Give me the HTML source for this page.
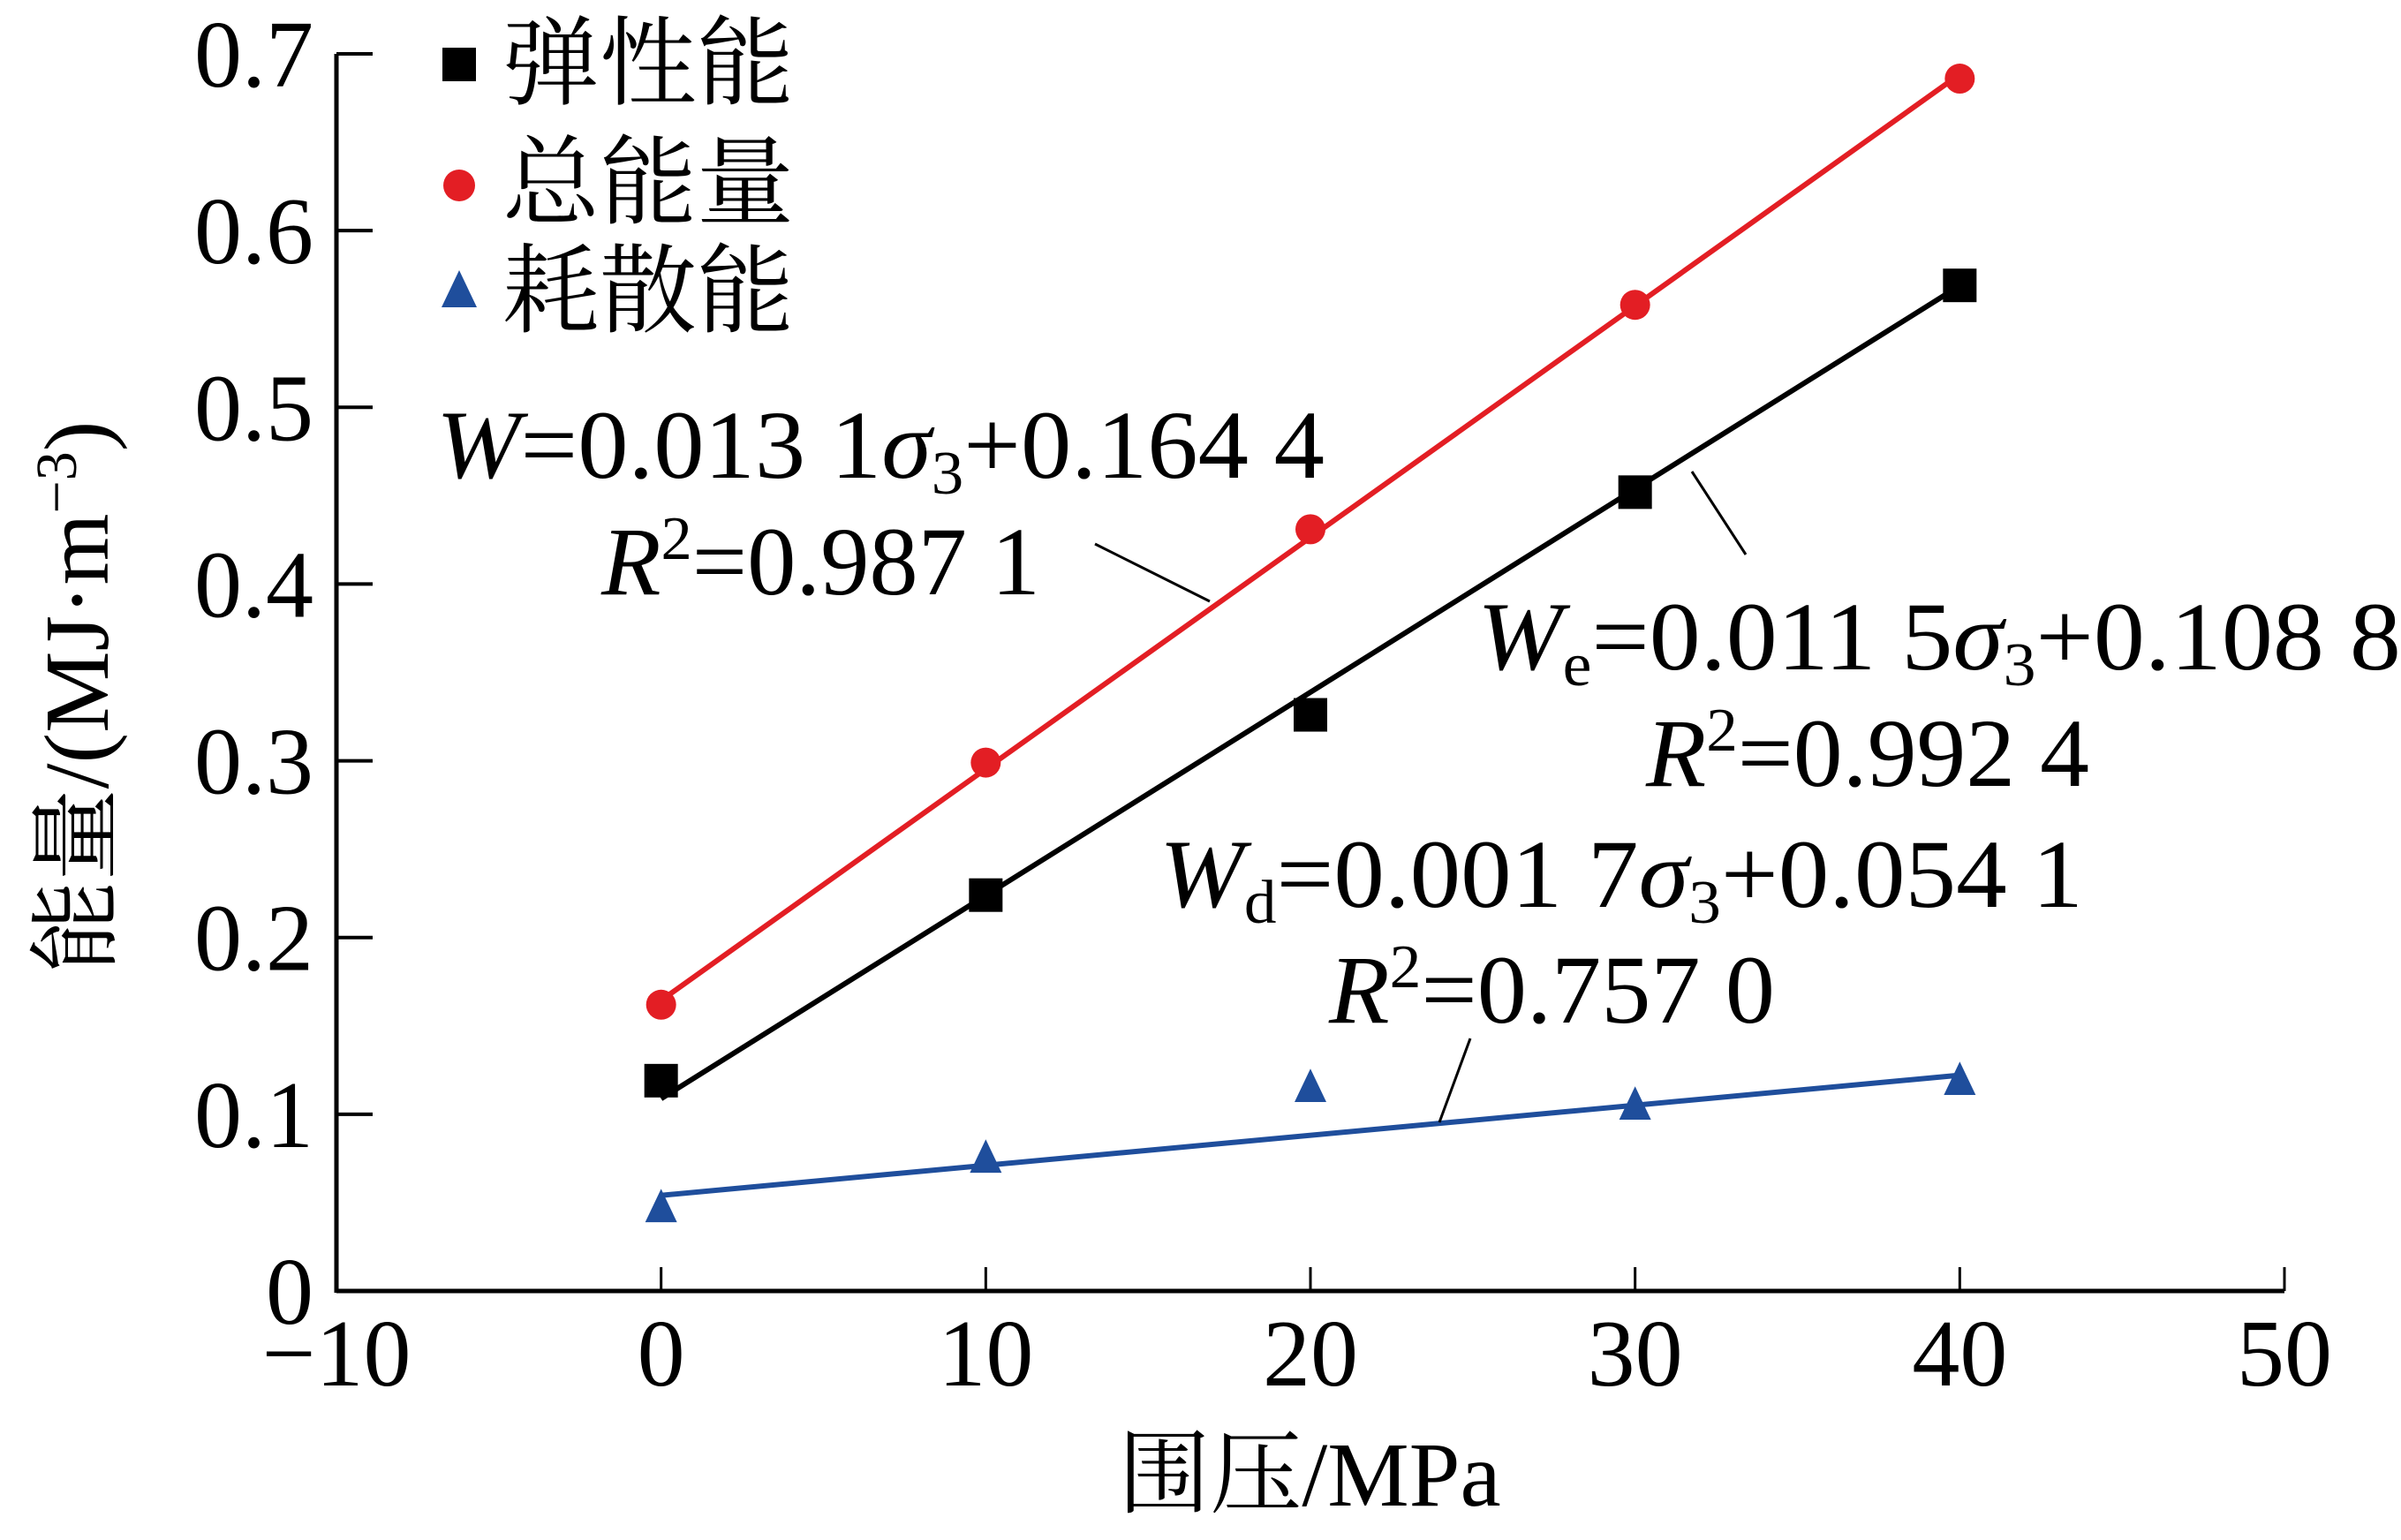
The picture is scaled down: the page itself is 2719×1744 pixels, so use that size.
<!DOCTYPE html>
<html><head><meta charset="utf-8">
<style>
html,body{margin:0;padding:0;background:#fff;}
svg{display:block;}
text{font-family:"Liberation Serif","Noto Serif CJK SC",serif;fill:#000;}
.cjk{font-family:"Liberation Serif","Noto Serif CJK SC","Noto Sans CJK SC",serif;}
</style></head>
<body>
<svg id="chart" width="2719" height="1744" viewBox="0 0 2719 1744" xmlns="http://www.w3.org/2000/svg">
  <g id="axes"></g>
  <g id="series"></g>
  <g id="legend"></g>
  <g id="annot"></g>
</svg>
<script>
const xCats = [0, 10, 20, 30, 40];
const elastic = [0.119, 0.224, 0.326, 0.452, 0.569];
const total = [0.162, 0.299, 0.431, 0.558, 0.686];
const dissipated = [0.047, 0.075, 0.115, 0.105, 0.119];
const fitTotal = [0.0131, 0.1644];
const fitElastic = [0.0115, 0.1088];
const fitDiss = [0.0017, 0.0541];
const xTicks = [-10, 0, 10, 20, 30, 40, 50];
const xTickLabels = ["\u221210", "0", "10", "20", "30", "40", "50"];
const yTicks = [0, 0.1, 0.2, 0.3, 0.4, 0.5, 0.6, 0.7];
const yTickLabels = ["0", "0.1", "0.2", "0.3", "0.4", "0.5", "0.6", "0.7"];

const NS = "http://www.w3.org/2000/svg";
const X0 = 381, X1 = 2587, Y0 = 1462, Y1 = 61;
function xs(v){ return X0 + (v - (-10)) / 60 * (X1 - X0); }
function ys(v){ return Y0 - v / 0.7 * (Y0 - Y1); }
function mk(tag, attrs, parent){
  const e = document.createElementNS(NS, tag);
  for (const k in attrs) e.setAttribute(k, attrs[k]);
  parent.appendChild(e);
  return e;
}
const axes = document.getElementById('axes');
const series = document.getElementById('series');

// axis lines
let ax = mk('line', {x1:X0, y1:Y0, x2:X1, y2:Y0, stroke:'#000', 'stroke-width':5}, axes);


let ay = mk('line', {x1:X0, y1:Y0+2, x2:X0, y2:Y1, stroke:'#000', 'stroke-width':5}, axes);



xTicks.forEach((t, i) => {
  const x = xs(t);
  const tk = mk('line', {x1:x, y1:Y0, x2:x, y2:Y0-27, stroke:'#000', 'stroke-width':3}, axes);
  
  
  const lb = mk('text', {x:x, y:1569, 'font-size':108, 'text-anchor':'middle'}, axes);
  lb.textContent = xTickLabels[i];
  
  
});
yTicks.forEach((t, i) => {
  const y = ys(t);
  const tk = mk('line', {x1:X0, y1:y, x2:X0+41, y2:y, stroke:'#000', 'stroke-width':4}, axes);
  
  
  const lb = mk('text', {x:355, y:y+37, 'font-size':108, 'text-anchor':'end'}, axes);
  lb.textContent = yTickLabels[i];
  
  
});

// axis titles
const xt = mk('text', {x:1483, y:1705, 'font-size':104, 'text-anchor':'middle', class:'cjk'}, axes);
xt.textContent = '围压/MPa';


const yt = mk('text', {x:0, y:0, 'font-size':104, 'text-anchor':'middle', class:'cjk', transform:'translate(122,789) rotate(-90)'}, axes);
yt.innerHTML = '能量/(MJ·m<tspan baseline-shift="super" font-size="66">−3</tspan>)';



// fit lines
function fitLine(fit, color, name){
  const l = mk('line', {x1:xs(xCats[0]), y1:ys(fit[1]+fit[0]*xCats[0]), x2:xs(xCats[xCats.length-1]), y2:ys(fit[1]+fit[0]*xCats[xCats.length-1]), stroke:color, 'stroke-width':6}, series);
  
  
}
fitLine(fitTotal, '#e31e24', 'total-fit-line');
fitLine(fitElastic, '#000', 'elastic-fit-line');
fitLine(fitDiss, '#1f4e9c', 'dissipated-fit-line');

function square(cx, cy, s, parent){ return mk('rect', {x:cx-s/2, y:cy-s/2, width:s, height:s, fill:'#000'}, parent); }
function circle(cx, cy, r, parent){ return mk('circle', {cx:cx, cy:cy, r:r, fill:'#e31e24'}, parent); }
function tri(cx, cy, s, parent){ return mk('polygon', {points:`${cx},${cy-s*0.6} ${cx-s/2},${cy+s*0.45} ${cx+s/2},${cy+s*0.45}`, fill:'#1f4e9c'}, parent); }

xCats.forEach((c, i) => {
  const a = square(xs(c), ys(elastic[i]), 38, series);
  
  
  const b = circle(xs(c), ys(total[i]), 17, series);
  
  
  const d = tri(xs(c), ys(dissipated[i]), 36, series);
  
  
});

// legend
const legend = document.getElementById('legend');
const lg1 = square(520, 73, 38, legend);


const lg2 = circle(520, 210, 18, legend);


const lg3 = tri(520, 330, 40, legend);


const lgLabels = ['弹性能', '总能量', '耗散能'];
const lgY = [110, 245, 368];
lgLabels.forEach((t, i) => {
  const e = mk('text', {x:569, y:lgY[i], 'font-size':110, class:'cjk', textLength:330, lengthAdjust:'spacingAndGlyphs'}, legend);
  e.textContent = t;
  
  
});

// annotations
const annot = document.getElementById('annot');
const eqs = [
  {x:494, y:541, w:1006, html:'<tspan font-style="italic">W</tspan>=0.013 1<tspan font-style="italic">σ</tspan><tspan font-size="70" dy="18">3</tspan><tspan dy="-18">+0.164 4</tspan>', n:'total-equation'},
  {x:681, y:673, w:498, html:'<tspan font-style="italic">R</tspan><tspan font-size="70" dy="-40">2</tspan><tspan dy="40">=0.987 1</tspan>', n:'total-r2'},
  {x:1673, y:758, w:1046, html:'<tspan font-style="italic">W</tspan><tspan font-size="70" dy="18">e</tspan><tspan dy="-18">=0.011 5</tspan><tspan font-style="italic">σ</tspan><tspan font-size="70" dy="18">3</tspan><tspan dy="-18">+0.108 8</tspan>', n:'elastic-equation'},
  {x:1864, y:890, w:503, html:'<tspan font-style="italic">R</tspan><tspan font-size="70" dy="-40">2</tspan><tspan dy="40">=0.992 4</tspan>', n:'elastic-r2'},
  {x:1313, y:1027, w:1046, html:'<tspan font-style="italic">W</tspan><tspan font-size="70" dy="18">d</tspan><tspan dy="-18">=0.001 7</tspan><tspan font-style="italic">σ</tspan><tspan font-size="70" dy="18">3</tspan><tspan dy="-18">+0.054 1</tspan>', n:'dissipated-equation'},
  {x:1505, y:1158, w:506, html:'<tspan font-style="italic">R</tspan><tspan font-size="70" dy="-40">2</tspan><tspan dy="40">=0.757 0</tspan>', n:'dissipated-r2'}
];
eqs.forEach(q => {
  const g = mk('g', {transform:`translate(${q.x},${q.y})`}, annot);
  const e = mk('text', {x:0, y:0, 'font-size':110}, g);
  e.innerHTML = q.html;
  
  
  try { const bb = e.getBBox(); if (bb.width > 0) e.setAttribute('transform', `scale(${q.w/bb.width},1)`); } catch(err) {}
});
const leaders = [[1240,616,1370,681],[1916,534,1977,628],[1665,1176,1630,1271]];
leaders.forEach(l => {
  const e = mk('line', {x1:l[0], y1:l[1], x2:l[2], y2:l[3], stroke:'#000', 'stroke-width':3}, annot);
  
  
});
</script>
</body></html>
